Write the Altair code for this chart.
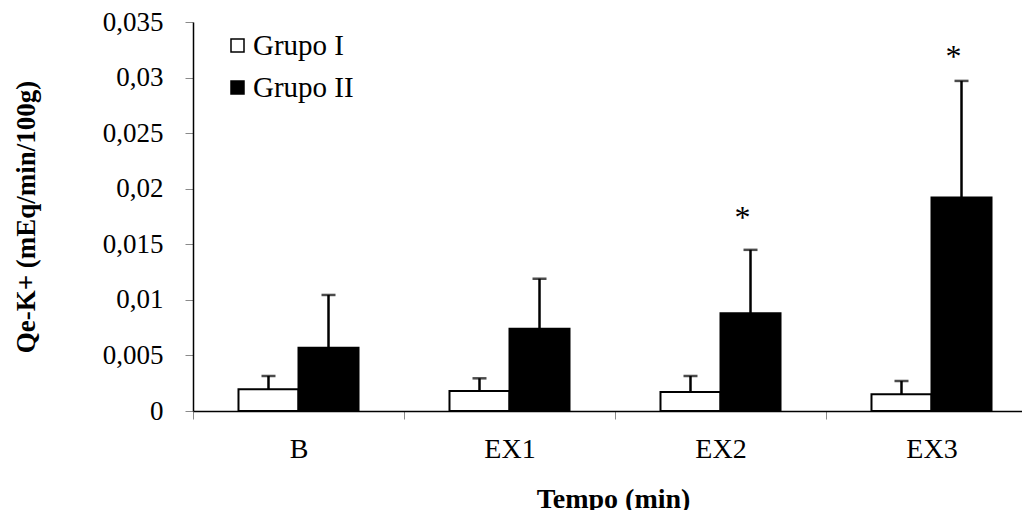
import altair as alt
import pandas as pd

tempo = ["B", "EX1", "EX2", "EX3"]
groups = ["Grupo I", "Grupo II"]
g1_mean = [0.00195, 0.0018, 0.0017, 0.0015]
g1_sd = [0.0012, 0.00114, 0.00145, 0.0012]
g2_mean = [0.0057, 0.0074, 0.0088, 0.0192]
g2_sd = [0.00474, 0.0045, 0.0057, 0.0105]
sig_tempo = ["EX2", "EX3"]
sig_level = [0.018, 0.0325]
y_ticks = [0, 0.005, 0.01, 0.015, 0.02, 0.025, 0.03, 0.035]

rows = []
for i, t in enumerate(tempo):
    rows.append({"tempo": t, "grupo": groups[0], "mean": g1_mean[i], "top": g1_mean[i] + g1_sd[i]})
    rows.append({"tempo": t, "grupo": groups[1], "mean": g2_mean[i], "top": g2_mean[i] + g2_sd[i]})
df = pd.DataFrame(rows)
sig = pd.DataFrame({"tempo": sig_tempo, "grupo": [groups[1]] * len(sig_tempo),
                    "level": sig_level, "label": ["*"] * len(sig_tempo)})

FONT = "Liberation Serif"

x_enc = alt.X("tempo:N", sort=tempo,
              scale=alt.Scale(range=[0, 844], paddingInner=0, paddingOuter=0),
              axis=alt.Axis(title="Tempo (min)", labelAngle=0, labelFont=FONT, labelFontSize=28,
                            labelColor="black", labelPadding=16, tickBand="extent", tickSize=8,
                            tickColor="#8a8a8a", tickWidth=1, domainColor="black", domainWidth=1.5,
                            titleFont=FONT, titleFontSize=28, titleFontWeight="bold",
                            titleColor="black", titleX=420, titleY=96, titleAlign="center",
                            titleBaseline="alphabetic", grid=False))
xo_enc = alt.XOffset("grupo:N", sort=groups,
                     scale=alt.Scale(paddingInner=0, paddingOuter=0.758))
y_scale = alt.Scale(domain=[0, 0.035], nice=False)
y_axis = alt.Axis(title="Qe-K+ (mEq/min/100g)", values=y_ticks,
                  labelExpr="replace(format(datum.value, '.3~f'), '.', ',')",
                  labelFont=FONT, labelFontSize=27, labelColor="black", labelPadding=22,
                  tickSize=8, tickColor="#8a8a8a", tickWidth=1, domainColor="black",
                  domainWidth=1.5, grid=False, titleFont=FONT, titleFontSize=27,
                  titleFontWeight="bold", titleColor="black", titleAngle=270,
                  titleX=-167, titleY=194.5, titleAlign="center", titleBaseline="middle")

base = alt.Chart(df)

bars = base.mark_bar(stroke="black", strokeWidth=2).encode(
    x=x_enc,
    xOffset=xo_enc,
    y=alt.Y("mean:Q", scale=y_scale, axis=y_axis),
    fill=alt.Fill("grupo:N", sort=groups,
                  scale=alt.Scale(domain=groups, range=["white", "black"]),
                  legend=alt.Legend(orient="none", legendX=30, legendY=9, title=None,
                                    symbolType="square", symbolSize=169,
                                    symbolStrokeColor="black", symbolStrokeWidth=1.5,
                                    labelFont=FONT, labelFontSize=29, labelColor="black",
                                    labelOffset=1, rowPadding=12, padding=0)),
)

err = base.mark_rule(color="black", strokeWidth=2.5).encode(
    x=alt.X("tempo:N", sort=tempo), xOffset=alt.XOffset("grupo:N", sort=groups),
    y=alt.Y("mean:Q"), y2="top:Q",
)

caps = base.mark_tick(color="black", thickness=2.5, size=14, orient="horizontal").encode(
    x=alt.X("tempo:N", sort=tempo), xOffset=alt.XOffset("grupo:N", sort=groups),
    y=alt.Y("top:Q"),
)

stars = alt.Chart(sig).mark_text(font=FONT, fontSize=32, color="black",
                                 baseline="alphabetic", dx=-8, dy=17).encode(
    x=alt.X("tempo:N", sort=tempo), xOffset=alt.XOffset("grupo:N", sort=groups),
    y=alt.Y("level:Q"), text="label:N",
)

chart = alt.layer(bars, err, caps, stars).properties(
    width=829, height=389,
    autosize=alt.AutoSizeParams(type="none"),
    padding={"left": 193, "top": 22, "right": 0, "bottom": 99},
    background="white",
).configure_view(stroke=None)

chart.save("out.html", embed_options={"renderer": "svg", "actions": False})
